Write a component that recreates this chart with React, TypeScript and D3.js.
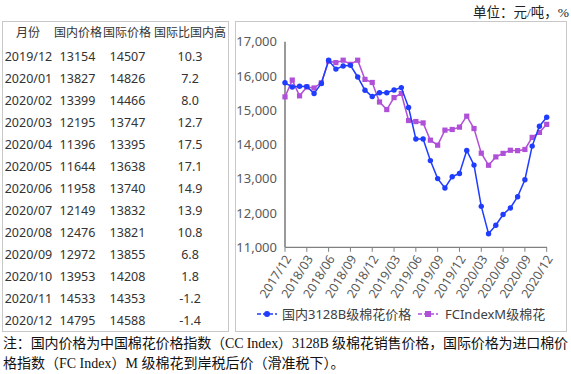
import React from "react";
import * as d3 from "d3";

const months: string[] = [];
for (let i = 0; i < 37; i++) {
  const y = 2017 + Math.floor((11 + i) / 12);
  const m = ((11 + i) % 12) + 1;
  months.push(`${y}/${m < 10 ? "0" + m : m}`);
}

const domestic = [
  15800, 15680, 15700, 15690, 15490, 15780, 16460, 16200, 16290, 16310, 15970, 15585,
  15400, 15510, 15510, 15590, 15660, 15080, 14160, 14160, 13530, 13005, 12730, 13060,
  13154, 13827, 13399, 12195, 11396, 11644, 11958, 12149, 12476, 12972, 13953, 14533, 14795,
];
const international = [
  15390, 15880, 15420, 15680, 15650, 15800, 16430, 16390, 16460, 16340, 16460, 15900,
  15810, 15240, 15020, 15370, 15490, 14700, 14670, 14630, 14126, 13980, 14419, 14438,
  14507, 14826, 14466, 13747, 13395, 13638, 13740, 13832, 13821, 13855, 14208, 14353, 14588,
];

const tableMonths = ["2019/12", "2020/01", "2020/02", "2020/03", "2020/04", "2020/05", "2020/06", "2020/07", "2020/08", "2020/09", "2020/10", "2020/11", "2020/12"];
const tableDomestic = [13154, 13827, 13399, 12195, 11396, 11644, 11958, 12149, 12476, 12972, 13953, 14533, 14795];
const tableIntl = [14507, 14826, 14466, 13747, 13395, 13638, 13740, 13832, 13821, 13855, 14208, 14353, 14588];
const tableDiff = ["10.3", "7.2", "8.0", "12.7", "17.5", "17.1", "14.9", "13.9", "10.8", "6.8", "1.8", "-1.2", "-1.4"];
const tableHeaders = ["月份", "国内价格", "国际价格", "国际比国内高"];

const yTicks = [11000, 12000, 13000, 14000, 15000, 16000, 17000];
const xTickLabels = months.filter((_, i) => i % 3 === 0);

const seriesNames = ["国内3128B级棉花价格", "FCIndexM级棉花"];
const unitText = "单位：元/吨，%";
const note1 = "注：国内价格为中国棉花价格指数（CC Index）3128B 级棉花销售价格，国际价格为进口棉价";
const note2 = "格指数（FC Index）M 级棉花到岸税后价（滑准税下）。";

const BLUE = "#1f3cff";
const PURPLE = "#b04fd8";
const SANS = "'Noto Sans', 'Noto Sans CJK SC', sans-serif";
const SERIF = "'Liberation Serif', 'Noto Sans CJK SC', serif";

export default function App() {
  const x = d3.scaleLinear().domain([0, months.length - 1]).range([285, 546.7]);
  const y = d3.scaleLinear().domain([11000, 17000]).range([247.3, 41.7]);
  const line = d3.line<number>().x((_, i) => x(i)).y((d) => y(d));
  const fmt = d3.format(",");

  const rowY = (i: number) => 57 + i * 21.95;
  const colX = [28, 78, 127, 190];

  return (
    <svg width={571} height={374} style={{ position: "absolute", left: 0, top: 0, background: "#fff" }}>
      {/* table */}
      <rect x={2.5} y={21.5} width={226} height={310} fill="none" stroke="#c8c8c8" strokeWidth={1} />
      <g fontFamily={SANS} fill="#333" textAnchor="middle">
        {tableHeaders.map((h, i) => (
          <text key={h} x={colX[i]} y={33} dy="0.35em" fontSize={12}>{h}</text>
        ))}
        {tableMonths.map((m, i) => (
          <g key={m} fontSize={12.5}>
            <text x={28.5} y={rowY(i)} dy="0.35em">{m}</text>
            <text x={77.5} y={rowY(i)} dy="0.35em">{tableDomestic[i]}</text>
            <text x={127.5} y={rowY(i)} dy="0.35em">{tableIntl[i]}</text>
            <text x={190} y={rowY(i)} dy="0.35em">{tableDiff[i]}</text>
          </g>
        ))}
      </g>

      {/* chart box */}
      <rect x={235.5} y={21.5} width={331} height={310} fill="none" stroke="#c8c8c8" strokeWidth={1} />
      <text x={569} y={12} dy="0.35em" textAnchor="end" fontFamily={SERIF} fontSize={13.5} fill="#222">{unitText}</text>

      {/* y axis */}
      <line x1={285} x2={285} y1={y(17000)} y2={y(11000)} stroke="#808080" strokeWidth={1.6} />
      {yTicks.map((t) => (
        <text key={t} x={277} y={y(t)} dy="0.35em" textAnchor="end" fontFamily={SANS} fontSize={13} fill="#595959">{fmt(t)}</text>
      ))}
      {/* x axis */}
      <line x1={285} x2={547} y1={y(11000)} y2={y(11000)} stroke="#808080" strokeWidth={1.2} />
      {xTickLabels.map((lab, k) => {
        const xi = x(k * 3);
        return (
          <g key={lab}>
            <line x1={xi} x2={xi} y1={y(11000)} y2={y(11000) + 4.5} stroke="#808080" strokeWidth={1} />
            <text
              transform={`translate(${xi + 3},${y(11000) + 9}) rotate(-58)`}
              textAnchor="end"
              dy="0.35em"
              fontFamily={SANS}
              fontSize={12.5}
              fill="#595959"
            >{lab}</text>
          </g>
        );
      })}

      {/* series */}
      <path d={line(international) || ""} fill="none" stroke={PURPLE} strokeWidth={1.5} />
      {international.map((v, i) => (
        <rect key={i} x={x(i) - 2.6} y={y(v) - 2.6} width={5.2} height={5.2} fill={PURPLE} />
      ))}
      <path d={line(domestic) || ""} fill="none" stroke={BLUE} strokeWidth={1.5} />
      {domestic.map((v, i) => (
        <circle key={i} cx={x(i)} cy={y(v)} r={2.7} fill={BLUE} />
      ))}

      {/* legend */}
      <g fontFamily={SANS} fontSize={13} fill="#404040">
        <line x1={257} x2={277} y1={314} y2={314} stroke={BLUE} strokeWidth={1.5} strokeDasharray="4,2" />
        <circle cx={267} cy={314} r={3} fill={BLUE} />
        <text x={282} y={314} dy="0.35em">{seriesNames[0]}</text>
        <line x1={418} x2={438} y1={314} y2={314} stroke={PURPLE} strokeWidth={1.5} strokeDasharray="4,2" />
        <rect x={425} y={311} width={6} height={6} fill={PURPLE} />
        <text x={445} y={314} dy="0.35em">{seriesNames[1]}</text>
      </g>

      {/* notes */}
      <g fontFamily={SERIF} fontSize={14} fill="#111">
        <text x={3} y={343} dy="0.35em" textLength={565} lengthAdjust="spacing">{note1}</text>
        <text x={3} y={363} dy="0.35em">{note2}</text>
      </g>
    </svg>
  );
}
